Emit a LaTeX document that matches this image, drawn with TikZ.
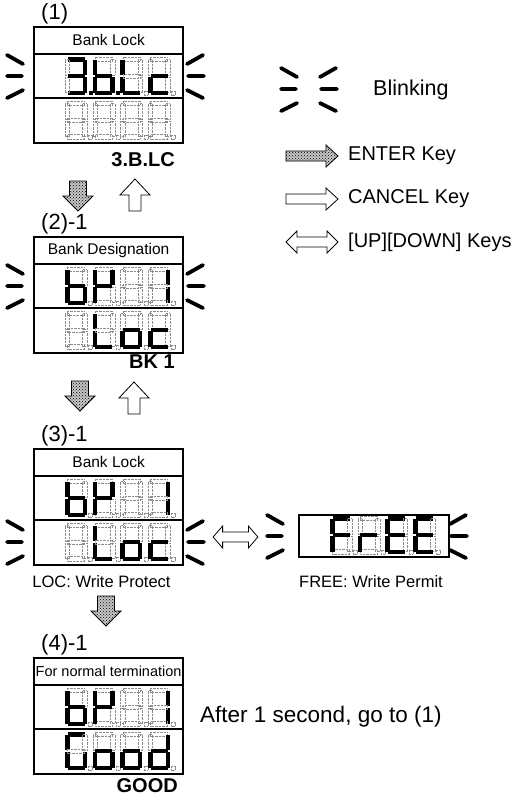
\documentclass[tikz,border=0pt]{standalone}
\usepackage{fontspec}
\setmainfont{Liberation Sans}
\usetikzlibrary{patterns}

\makeatletter
% one 7-segment digit: top-left corner, lit segments (a-g, p = point, - = none)
\newcommand\lcddigit[3]{%
  \begin{scope}[shift={(#1,#2)}]
    \foreach \sg/\xa/\ya/\xb/\yb in {a/2.5/0/19.5/4.5, b/17.5/2.5/22/18, c/17.5/20/22/35.5,
        d/2.5/33.5/19.5/38, e/0/20/4.5/35.5, f/0/2.5/4.5/18, g/2.5/16.8/19.5/21.2, p/23.5/33.8/27.5/38}{
      \edef\segtest{\noexpand\in@{\sg}{#3}}\segtest
      \ifin@ \fill[segon] (\xa,\ya) rectangle (\xb,\yb);
      \else \draw[segoff] (\xa,\ya) rectangle (\xb,\yb); \fi
    }
  \end{scope}}
\makeatother
% four digits of a row: box left edge, row top
\newcommand\lcdrow[6]{%
  \foreach \dg [count=\k from 0] in {#3,#4,#5,#6}
    \lcddigit{#1+32+27.7*\k}{#2+3}{\dg};}
% blinking marks: end of left marks, start of right marks, centre y
\newcommand\blink[3]{%
  \draw[blinkmark] (#1-16,#3-21) -- (#1,#3-12)  (#1-16,#3) -- (#1-1,#3)  (#1-16,#3+22) -- (#1,#3+14)
                   (#2,#3-12) -- (#2+16,#3-21)  (#2+1,#3) -- (#2+17,#3)  (#2,#3+14) -- (#2+16,#3+22);}

\tikzset{
  dotfill/.style={preaction={fill=black!22}, pattern=crosshatch dots},
  pics/enterdown/.style={code={
    \draw[blk, dotfill] (-8.5,-15) -- (8.5,-15) -- (8.5,0) -- (15,0) -- (0,15) -- (-15,0) -- (-8.5,0) -- cycle;}},
  pics/cancelup/.style={code={
    \draw[blk, fill=white] (0,-16) -- (15,0) -- (6,0) -- (6,16) -- (-6,16) -- (-6,0) -- (-15,0) -- cycle;}},
  pics/enterright/.style={code={
    \draw[blk, dotfill] (-26,-5) -- (14,-5) -- (14,-11) -- (26,0) -- (14,11) -- (14,5) -- (-26,5) -- cycle;}},
  pics/cancelright/.style={code={
    \draw[blk, fill=white] (-26,-5) -- (14,-5) -- (14,-11) -- (26,0) -- (14,11) -- (14,5) -- (-26,5) -- cycle;}},
  pics/updown/.style={code={
    \draw[blk, fill=white] (-26,0) -- (-15,-11) -- (-15,-5) -- (15,-5) -- (15,-11) -- (26,0) -- (15,11) -- (15,5)
      -- (-15,5) -- (-15,11) -- cycle;}},
}

\begin{document}
\begin{tikzpicture}[x=1pt, y=-1pt,
    lcdbox/.style={draw, line width=2.2pt, minimum width=149pt, minimum height=116pt,
                   inner sep=0pt, anchor=north west},
    freebox/.style={draw, line width=2.2pt, minimum width=150pt, minimum height=42pt,
                    inner sep=0pt, anchor=north west},
    divider/.style={line width=1.6pt},
    segon/.style={fill=black},
    segoff/.style={draw=black!45, densely dotted, line width=0.4pt},
    blinkmark/.style={line width=3.8pt, line cap=round},
    blk/.style={draw=black, line width=0.8pt, line join=miter},
    hdr/.style={font=\fontsize{15.5}{16}\selectfont, inner sep=0pt},
    steplbl/.style={font=\fontsize{22}{23}\selectfont, anchor=base west, inner sep=0pt},
    keylbl/.style={font=\fontsize{20}{21}\selectfont\bfseries, anchor=east, inner sep=0pt},
    note/.style={font=\fontsize{16.5}{17}\selectfont, inner sep=0pt},
    legtxt/.style={font=\fontsize{20}{21}\selectfont, anchor=west, inner sep=0pt},
  ]
  \useasboundingbox (0,0) rectangle (515,796);

  % (1)
  \node[lcdbox] (bx1) at (33,26) {};
  \draw[divider] ([yshift=-28pt]bx1.north west) -- ([yshift=-28pt]bx1.north east)
                 ([yshift=-72pt]bx1.north west) -- ([yshift=-72pt]bx1.north east);
  \node[hdr] (h1) at ([yshift=-14pt]bx1.north) {Bank Lock};
  \node[steplbl] (s1) at ([xshift=8pt,yshift=7pt]bx1.north west) {(1)};
  \lcdrow{33}{54}{abcdgp}{cdefgp}{def}{deg}
  \lcdrow{33}{98}{-}{-}{-}{-}
  \blink{23}{187}{76}
  \node[keylbl] (k1) at (175,160) {3.B.LC};

  \pic at (78,196) {enterdown};
  \pic at (135,195) {cancelup};

  % (2)-1
  \node[lcdbox] (bx2) at (33,236) {};
  \draw[divider] ([yshift=-28pt]bx2.north west) -- ([yshift=-28pt]bx2.north east)
                 ([yshift=-72pt]bx2.north west) -- ([yshift=-72pt]bx2.north east);
  \node[hdr] (h2) at ([yshift=-14pt]bx2.north) {Bank Designation};
  \node[steplbl] (s2) at ([xshift=8pt,yshift=7pt]bx2.north west) {(2)-1};
  \lcdrow{33}{264}{cdefg}{befg}{-}{bc}
  \lcdrow{33}{308}{-}{def}{cdeg}{deg}
  \blink{23}{187}{286}
  \node[keylbl] (k2) at (175,362) {BK 1};

  \pic at (80,396) {enterdown};
  \pic at (134,398) {cancelup};

  % (3)-1
  \node[lcdbox] (bx3) at (33,448) {};
  \draw[divider] ([yshift=-28pt]bx3.north west) -- ([yshift=-28pt]bx3.north east)
                 ([yshift=-72pt]bx3.north west) -- ([yshift=-72pt]bx3.north east);
  \node[hdr] (h3) at ([yshift=-14pt]bx3.north) {Bank Lock};
  \node[steplbl] (s3) at ([xshift=8pt,yshift=7pt]bx3.north west) {(3)-1};
  \lcdrow{33}{476}{cdefg}{befg}{-}{bc}
  \lcdrow{33}{520}{-}{def}{cdeg}{deg}
  \blink{23}{187}{542}
  \node[note] (loc) at (101.5,582) {LOC: Write Protect};

  \pic at (235.5,537) [xscale=0.86] {updown};

  % FREE
  \node[freebox] (bxf) at (298,514) {};
  \lcdrow{298}{513}{aefg}{eg}{adefg}{adefg}
  \blink{283}{450}{536}
  \node[note] (free) at (371,582) {FREE: Write Permit};

  \pic at (106,611) {enterdown};

  % (4)-1
  \node[lcdbox] (bx4) at (33,657) {};
  \draw[divider] ([yshift=-28pt]bx4.north west) -- ([yshift=-28pt]bx4.north east)
                 ([yshift=-72pt]bx4.north west) -- ([yshift=-72pt]bx4.north east);
  \node[hdr, font=\fontsize{14.5}{15}\selectfont] (h4) at ([yshift=-14pt]bx4.north) {For normal termination};
  \node[steplbl] (s4) at ([xshift=8pt,yshift=7pt]bx4.north west) {(4)-1};
  \lcdrow{33}{685}{cdefg}{befg}{-}{bc}
  \lcdrow{33}{729}{acdef}{cdeg}{cdeg}{bcdeg}
  \node[keylbl] (k4) at (178,786) {GOOD};
  \node[legtxt, font=\fontsize{22.5}{23}\selectfont] (after) at (200,717) {After 1 second, go to (1)};

  % Legend
  \blink{297}{320}{89}
  \node[legtxt, font=\fontsize{21.5}{22}\selectfont] (lblink) at (373,90) {Blinking};
  \pic at (312,156) {enterright};
  \node[legtxt] (lenter) at (348,156) {ENTER Key};
  \pic at (312,199) {cancelright};
  \node[legtxt] (lcancel) at (348,199) {CANCEL Key};
  \pic at (312,242) {updown};
  \node[legtxt] (lupdown) at (348,242) {[UP][DOWN] Keys};
\end{tikzpicture}
\end{document}
